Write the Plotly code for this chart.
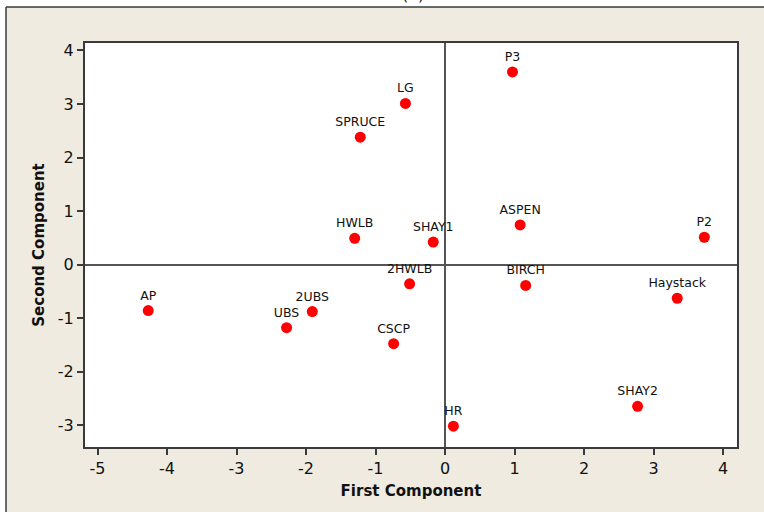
import plotly.graph_objects as go

# sample scores on the first two principal components
labels = ['AP', 'UBS', '2UBS', 'HWLB', 'SPRUCE', 'LG', 'CSCP', '2HWLB',
          'SHAY1', 'HR', 'P3', 'ASPEN', 'BIRCH', 'SHAY2', 'Haystack', 'P2']
first_comp = [-4.27, -2.28, -1.91, -1.30, -1.22, -0.57, -0.74, -0.51,
              -0.17, 0.12, 0.97, 1.08, 1.16, 2.77, 3.34, 3.73]
second_comp = [-0.86, -1.18, -0.88, 0.49, 2.38, 3.01, -1.48, -0.36,
               0.42, -3.02, 3.60, 0.74, -0.39, -2.65, -0.63, 0.51]

x_ticks = [-5, -4, -3, -2, -1, 0, 1, 2, 3, 4]
y_ticks = [-3, -2, -1, 0, 1, 2, 3, 4]

FONT = 'DejaVu Sans'
BEIGE = '#EFEBE1'
LINE = '#3a3a3a'

fig = go.Figure()
fig.add_trace(
    go.Scatter(
        x=first_comp,
        y=second_comp,
        mode='markers+text',
        text=labels,
        textposition='top center',
        textfont=dict(family=FONT, size=12.5, color='#111111'),
        marker=dict(color='#FF0000', size=11, line_width=0),
        showlegend=False,
        hoverinfo='text',
    )
)

axis_common = dict(
    showline=True,
    linewidth=2,
    linecolor=LINE,
    mirror=True,
    ticks='outside',
    ticklen=6,
    tickwidth=1.5,
    tickcolor=LINE,
    showgrid=False,
    zeroline=True,
    zerolinecolor='#555555',
    zerolinewidth=1.5,
    tickfont=dict(family=FONT, size=16, color='#111111'),
)

fig.update_xaxes(
    **axis_common,
    range=[-5.18, 4.20],
    tickvals=x_ticks,
    ticktext=[str(v) for v in x_ticks],
    title=dict(text='<b>First Component</b>', standoff=8,
               font=dict(family=FONT, size=15, color='#111111')),
)
fig.update_yaxes(
    **axis_common,
    range=[-3.41, 4.14],
    tickvals=y_ticks,
    ticktext=[str(v) for v in y_ticks],
    title=dict(text='<b>Second Component</b>', standoff=10,
               font=dict(family=FONT, size=15, color='#111111')),
)

# outer frame: white strip on top and left, beige panel with dark edge
L, R, T, B = 85, 27, 43, 65
W, H = 764, 512
pw, ph = W - L - R, H - T - B


def px(x):
    return (x - L) / pw


def py(y):
    return (H - B - y) / ph


fig.add_shape(type='rect', xref='paper', yref='paper',
              x0=px(-10), x1=px(W + 10), y0=py(7), y1=py(-10),
              fillcolor='white', line_width=0, layer='above')
fig.add_shape(type='rect', xref='paper', yref='paper',
              x0=px(-10), x1=px(6), y0=py(H + 10), y1=py(-10),
              fillcolor='white', line_width=0, layer='above')
fig.add_shape(type='line', xref='paper', yref='paper',
              x0=px(6), x1=px(W + 10), y0=py(7), y1=py(7),
              line=dict(color=LINE, width=1.5), layer='above')
fig.add_shape(type='line', xref='paper', yref='paper',
              x0=px(6), x1=px(6), y0=py(7), y1=py(H + 10),
              line=dict(color=LINE, width=1.5), layer='above')

# panel caption, mostly cut off at the top edge (as in the source figure)
fig.add_annotation(text='(a)', xref='paper', yref='paper',
                   x=px(413), y=py(6), xanchor='center', yanchor='bottom',
                   showarrow=False, font=dict(family=FONT, size=16, color='#111111'))

fig.update_layout(
    width=W,
    height=H,
    paper_bgcolor=BEIGE,
    plot_bgcolor='white',
    margin=dict(l=L, r=R, t=T, b=B, autoexpand=False),
    font=dict(family=FONT, color='#111111'),
)

fig.write_html('out.html',
               config={'displayModeBar': False},
               post_script="document.body.style.margin='0';"
                           "document.body.style.overflow='hidden';")
